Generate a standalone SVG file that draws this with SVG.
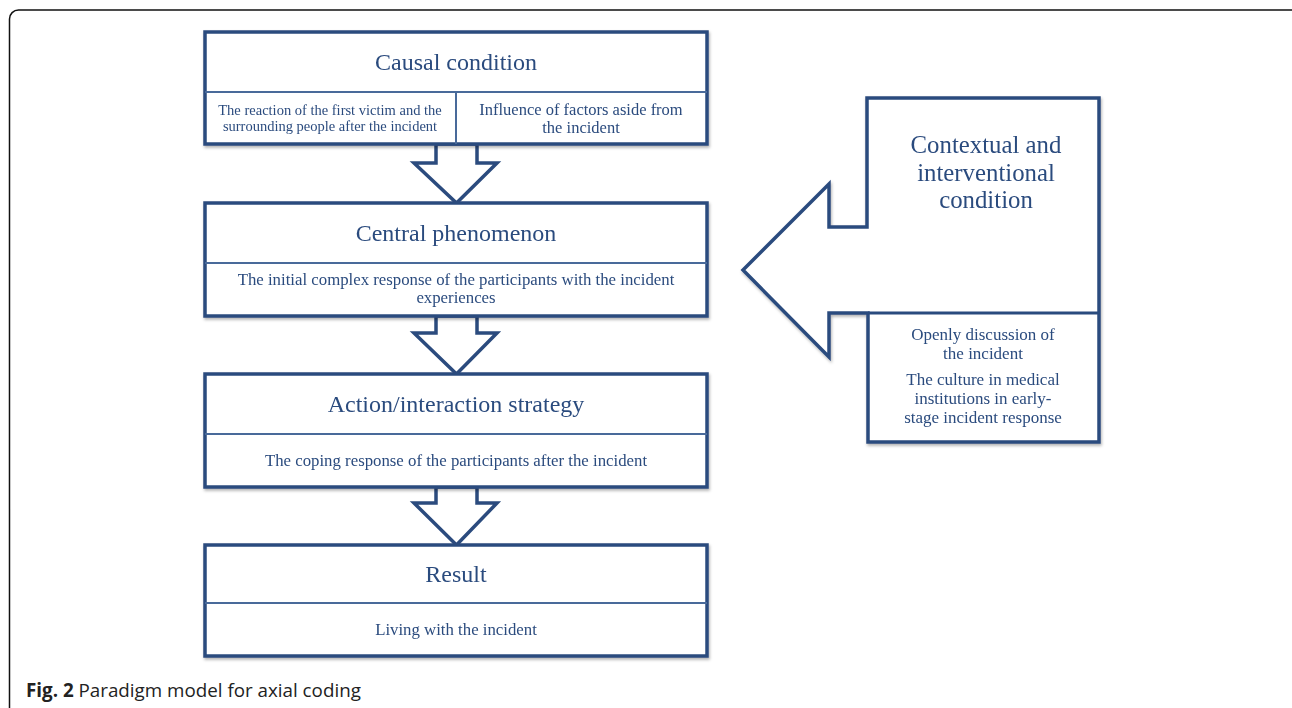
<svg xmlns="http://www.w3.org/2000/svg" width="1292" height="708" viewBox="0 0 1292 708">
<defs>
<filter id="sh" x="-5%" y="-5%" width="110%" height="115%">
<feDropShadow dx="1" dy="2" stdDeviation="1.5" flood-color="#000" flood-opacity="0.3"/>
</filter>
<style>
.box{fill:#fff;stroke:#2b4b7e;stroke-width:3.5;stroke-linejoin:miter}
.div{stroke:#4a6a9a;stroke-width:2;fill:none}
.arr{fill:#fff;stroke:#2b4b7e;stroke-width:3.5;stroke-linejoin:miter}
.h{font-family:"Liberation Serif","Times New Roman",serif;font-size:24px;fill:#2b4b7e;text-anchor:middle}
.t{font-family:"Liberation Serif","Times New Roman",serif;font-size:16.8px;fill:#2b4b7e;text-anchor:middle}
.cap{font-family:"Open Sans","Noto Sans",sans-serif;font-size:18.8px;fill:#222}
</style>
</defs>
<rect x="9.5" y="10" width="1300" height="720" rx="9" fill="none" stroke="#111" stroke-width="1.5"/>

<g id="connectors">
<polygon class="arr" points="436,144 477,144 477,163 497,163 456.5,203 414,163 436,163"/>
<polygon class="arr" points="436,316 477,316 477,333 497,333 456.5,374 414,333 436,333"/>
<polygon class="arr" points="436,487 477,487 477,503 497,503 456.5,545 414,503 436,503"/>
</g>

<g id="causal" filter="url(#sh)">
<rect class="box" x="205" y="32" width="502" height="112"/>
<line class="div" x1="205" y1="92" x2="707" y2="92"/>
<line class="div" x1="456" y1="92" x2="456" y2="144"/>
<text class="h" x="456" y="70">Causal condition</text>
<text class="t" style="font-size:14.5px" x="330" y="115">The reaction of the first victim and the</text>
<text class="t" style="font-size:14.5px" x="330" y="131">surrounding people after the incident</text>
<text class="t" style="font-size:16.5px" x="581" y="115">Influence of factors aside from</text>
<text class="t" style="font-size:16.5px" x="581" y="133">the incident</text>
</g>

<g id="central" filter="url(#sh)">
<rect class="box" x="205" y="203" width="502" height="113"/>
<line class="div" x1="205" y1="263" x2="707" y2="263"/>
<text class="h" x="456" y="241">Central phenomenon</text>
<text class="t" x="456" y="285">The initial complex response of the participants with the incident</text>
<text class="t" x="456" y="303">experiences</text>
</g>

<g id="action" filter="url(#sh)">
<rect class="box" x="205" y="374" width="502" height="113"/>
<line class="div" x1="205" y1="434" x2="707" y2="434"/>
<text class="h" x="456" y="412">Action/interaction strategy</text>
<text class="t" x="456" y="466">The coping response of the participants after the incident</text>
</g>

<g id="result" filter="url(#sh)">
<rect class="box" x="205" y="545" width="502" height="111"/>
<line class="div" x1="205" y1="603" x2="707" y2="603"/>
<text class="h" x="456" y="582">Result</text>
<text class="t" x="456" y="635">Living with the incident</text>
</g>

<g id="context" filter="url(#sh)">
<polygon class="arr" points="867,98 1099,98 1099,442 868,442 868,313 829,313 829,357 743,270 829,184 829,227 867,227"/>
<line x1="868" y1="313" x2="1099" y2="313" stroke="#2b4b7e" stroke-width="3"/>
<text class="h" style="font-size:24.8px" x="986" y="153">Contextual and</text>
<text class="h" style="font-size:24.8px" x="986" y="181">interventional</text>
<text class="h" style="font-size:24.8px" x="986" y="208">condition</text>
<text class="t" style="font-size:17px" x="983" y="340">Openly discussion of</text>
<text class="t" style="font-size:17px" x="983" y="359">the incident</text>
<text class="t" style="font-size:17px" x="983" y="385">The culture in medical</text>
<text class="t" style="font-size:17px" x="983" y="404">institutions in early-</text>
<text class="t" style="font-size:17px" x="983" y="423">stage incident response</text>
</g>

<text class="cap" x="26" y="697"><tspan font-weight="bold">Fig. 2</tspan> Paradigm model for axial coding</text>
</svg>
